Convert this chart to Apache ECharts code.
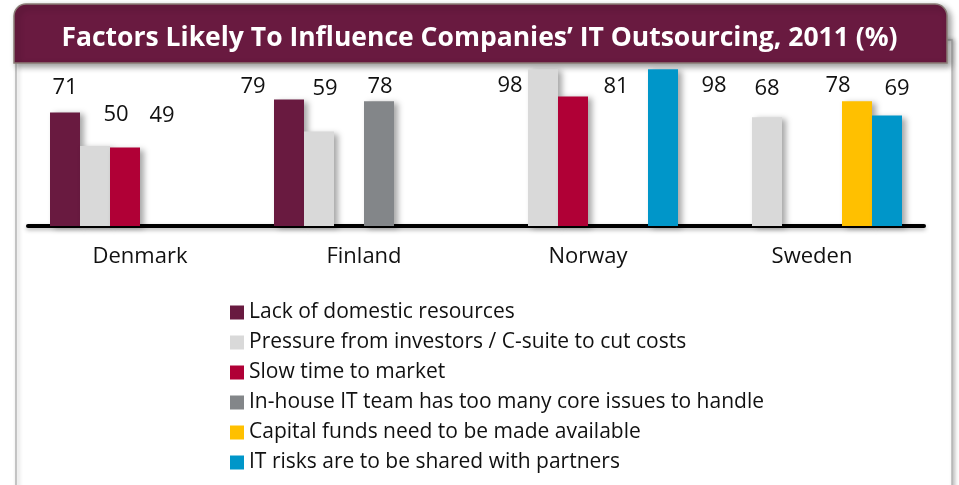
<!DOCTYPE html>
<html>
<head>
<meta charset="utf-8">
<script src="https://cdn.jsdelivr.net/npm/echarts@6/dist/echarts.min.js"></script>
<style>
  html, body { margin: 0; padding: 0; background: #fff; }
  #chart { width: 959px; height: 485px; }
</style>
</head>
<body>
<div id="chart"></div>
<script>
// data (%)
const categories = ['Denmark', 'Finland', 'Norway', 'Sweden'];
const seriesNames = [
    'Lack of domestic resources',
    'Pressure from investors / C-suite to cut costs',
    'Slow time to market',
    'In-house IT team has too many core issues to handle',
    'Capital funds need to be made available',
    'IT risks are to be shared with partners'
];
const lackDomestic = [71, 79, null, null];
const pressureInvestors = [50, 59, 98, 68];
const slowTime = [49, null, 81, null];
const inHouseTeam = [null, 78, null, null];
const capitalFunds = [null, null, null, 78];
const itRisks = [null, null, 98, 69];

const values = [lackDomestic, pressureInvestors, slowTime, inHouseTeam, capitalFunds, itRisks];
const colors = ['#691A40', '#D9D9D9', '#B00036', '#838689', '#FFC000', '#0096C9'];

// the original slide puts some value labels beside their bars
const labelOffsets = [
    [[0, -9], [-36, 3], null, null],
    [[21, -15], [6, -27], [-33, 33], [0, -12]],
    [[37, -16], null, [43, 6], null],
    [null, [1, 2], null, null],
    [null, null, null, [-19, 1]],
    [null, null, [51, 33], [10, -11]]
];

const font = '"Open Sans"';

var myChart = echarts.init(document.getElementById('chart'));

var series = values.map((vals, i) => ({
    name: seriesNames[i],
    type: 'bar',
    barWidth: 30,
    barGap: '0%',
    data: vals.map((v, j) => {
        if (v === null) return null;
        var off = labelOffsets[i][j];
        return off ? { value: v, label: { offset: off } } : v;
    }),
    itemStyle: {
        color: colors[i],
        shadowBlur: 6,
        shadowColor: 'rgba(0,0,0,0.35)',
        shadowOffsetX: 4,
        shadowOffsetY: 2
    },
    label: {
        show: true,
        position: 'top',
        distance: 5,
        fontFamily: font,
        fontSize: 22,
        color: '#111'
    }
}));

var option = {
    backgroundColor: '#fff',
    animation: false,
    title: {
        text: 'Factors Likely To Influence Companies\u2019 IT Outsourcing, 2011 (%)',
        left: 'center',
        top: 25,
        padding: 0,
        textStyle: {
            fontFamily: font,
            fontWeight: 'bold',
            fontSize: 26.5,
            color: '#fff'
        }
    },
    graphic: [
        {
            type: 'rect',
            z: -10,
            shape: { x: 16, y: 40, width: 936, height: 480 },
            style: {
                fill: '#fff',
                stroke: '#b5b5b5',
                lineWidth: 1.5,
                shadowBlur: 4,
                shadowColor: 'rgba(0,0,0,0.25)',
                shadowOffsetX: 2
            }
        },
        {
            type: 'rect',
            z: -5,
            shape: { x: 14, y: 4, width: 933, height: 59, r: [12, 12, 0, 0] },
            style: {
                fill: '#691A40',
                stroke: '#8a7c76',
                lineWidth: 1.5,
                shadowBlur: 6,
                shadowColor: 'rgba(0,0,0,0.4)',
                shadowOffsetX: 3,
                shadowOffsetY: 3
            }
        }
    ],
    legend: {
        orient: 'vertical',
        left: 230,
        top: 302,
        padding: 0,
        icon: 'rect',
        itemWidth: 14,
        itemHeight: 14,
        itemGap: 9,
        itemStyle: { shadowBlur: 0, shadowOffsetX: 0, shadowOffsetY: 0 },
        textStyle: {
            fontFamily: font,
            fontSize: 21,
            lineHeight: 21,
            color: '#111'
        },
        data: seriesNames
    },
    tooltip: { show: false },
    grid: {
        left: 28,
        right: 35,
        top: 66,
        bottom: 259,
        containLabel: false
    },
    xAxis: {
        type: 'category',
        data: categories,
        axisTick: { show: false },
        axisLine: {
            lineStyle: {
                color: '#000',
                width: 4,
                shadowBlur: 4,
                shadowColor: 'rgba(0,0,0,0.3)',
                shadowOffsetY: 2
            }
        },
        axisLabel: {
            margin: 20,
            fontFamily: font,
            fontSize: 22,
            color: '#111'
        }
    },
    yAxis: {
        type: 'value',
        min: 0,
        max: 100,
        show: false
    },
    series: series
};
myChart.setOption(option);
</script>
</body>
</html>
